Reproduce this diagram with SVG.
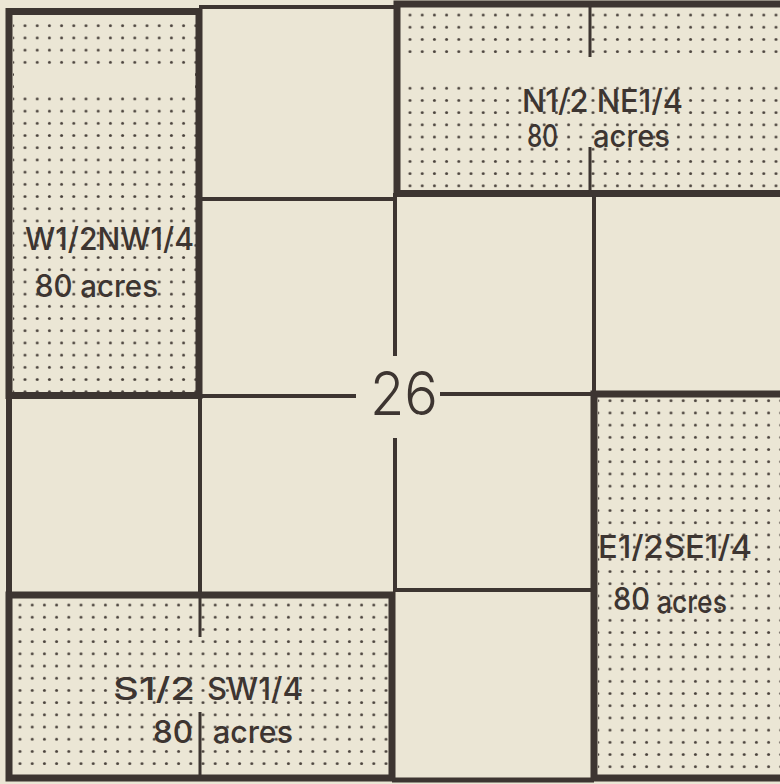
<svg xmlns="http://www.w3.org/2000/svg" width="780" height="784" viewBox="0 0 780 784">
  <style>
    .bg { fill: #ebe6d5; }
    .box { fill: none; stroke: #3d3531; stroke-width: 7; stroke-linejoin: miter; }
    .ln { fill: none; stroke: #3d3531; stroke-width: 4; stroke-linecap: butt; }
    .thin { fill: none; stroke: #3d3531; stroke-width: 3; }
    .lbl { font-family: Inter, "Liberation Sans", sans-serif; font-size: 31px; font-weight: 500; fill: #3d3531; }
    .num { font-family: Inter, "Liberation Sans", sans-serif; font-weight: 300; font-size: 60px; fill: #3d3531; }
    .blank { fill: #ebe6d5; }
  </style>
  <defs>
    <pattern id="dotsW" patternUnits="userSpaceOnUse" x="18.9" y="19.6" width="12.2" height="12.2">
      <circle cx="6.1" cy="6.1" r="1.5" fill="#4a423c"/>
    </pattern>
    <pattern id="dotsN" patternUnits="userSpaceOnUse" x="403.9" y="8.9" width="12.2" height="12.2">
      <circle cx="6.1" cy="6.1" r="1.5" fill="#4a423c"/>
    </pattern>
    <pattern id="dotsE" patternUnits="userSpaceOnUse" x="603.9" y="394.6" width="12.2" height="12.2">
      <circle cx="6.1" cy="6.1" r="1.5" fill="#4a423c"/>
    </pattern>
    <pattern id="dotsS" patternUnits="userSpaceOnUse" x="13.9" y="598.9" width="12.2" height="12.2">
      <circle cx="6.1" cy="6.1" r="1.5" fill="#4a423c"/>
    </pattern>
  </defs>

  <rect class="bg" x="0" y="0" width="780" height="784"/>

  <g id="lines">
    <path class="ln" d="M199,7 H397"/>
    <path class="ln" d="M199,199 H397"/>
    <path class="ln" d="M395,193 V356 M395,438 V592"/>
    <path class="ln" d="M199,396 H356 M440,394 H594"/>
    <path class="ln" d="M594,193 V394"/>
    <path class="ln" d="M200,395 V595"/>
    <path class="ln" d="M9,395 V595" style="stroke-width:6"/>
    <path class="ln" d="M395,590 H594"/>
    <path class="ln" d="M392,780 H594" style="stroke-width:5"/>
  </g>

  <g id="w-half-nw-quarter">
    <rect x="13" y="15" width="183" height="377" fill="url(#dotsW)"/>
    <rect class="blank" x="14" y="68" width="181" height="25"/>
    <rect class="box" x="9" y="11.5" width="190" height="384"/>
    <text class="lbl" x="25" y="250" textLength="169" lengthAdjust="spacingAndGlyphs">W1/2NW1/4</text>
    <text class="lbl" x="35" y="297" textLength="123" lengthAdjust="spacingAndGlyphs">80 acres</text>
  </g>

  <g id="n-half-ne-quarter">
    <rect x="401" y="8" width="379" height="182" fill="url(#dotsN)"/>
    <rect class="blank" x="401" y="57" width="379" height="25"/>
    <rect class="box" x="397" y="4" width="400" height="189.5"/>
    <path class="thin" d="M590,4 V57 M590,147 V193"/>
    <text class="lbl" x="522" y="112" textLength="161" lengthAdjust="spacingAndGlyphs">N1/2 NE1/4</text>
    <text class="lbl" x="527" y="147" textLength="31" lengthAdjust="spacingAndGlyphs">80</text>
    <text class="lbl" x="593" y="147" textLength="77" lengthAdjust="spacingAndGlyphs">acres</text>
  </g>

  <g id="section-number">
    <text class="num" x="370" y="415" textLength="68" lengthAdjust="spacingAndGlyphs">26</text>
  </g>

  <g id="e-half-se-quarter">
    <rect x="598" y="398" width="182" height="376" fill="url(#dotsE)"/>
    <rect class="box" x="594" y="394" width="200" height="384"/>
    <text class="lbl" x="598" y="558" textLength="154" lengthAdjust="spacingAndGlyphs">E1/2SE1/4</text>
    <text class="lbl" x="613" y="610" textLength="37" lengthAdjust="spacingAndGlyphs">80</text>
    <text class="lbl" x="657" y="613" textLength="70" lengthAdjust="spacingAndGlyphs">acres</text>
  </g>

  <g id="s-half-sw-quarter">
    <rect x="13" y="599" width="376" height="175" fill="url(#dotsS)"/>
    <rect class="box" x="9" y="595" width="383" height="183"/>
    <path class="thin" d="M200,598 V637 M200,712 V775"/>
    <text class="lbl" x="113" y="700" textLength="82" lengthAdjust="spacingAndGlyphs">S1/2</text>
    <text class="lbl" x="207" y="700" textLength="96" lengthAdjust="spacingAndGlyphs">SW1/4</text>
    <text class="lbl" x="153" y="743" textLength="40" lengthAdjust="spacingAndGlyphs">80</text>
    <text class="lbl" x="213" y="743" textLength="80" lengthAdjust="spacingAndGlyphs">acres</text>
  </g>
</svg>
